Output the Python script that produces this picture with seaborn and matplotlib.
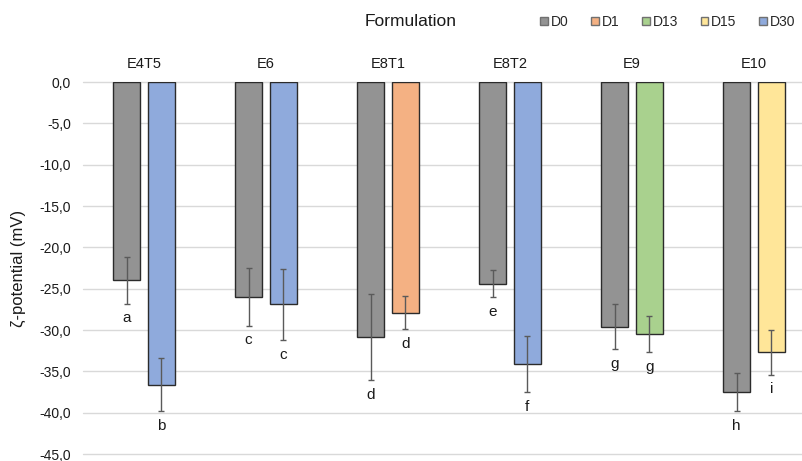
import numpy as np
import pandas as pd
import matplotlib
matplotlib.use('Agg')
import matplotlib.pyplot as plt
from matplotlib.patches import Patch
import seaborn as sns

# data
formulations = ['E4T5', 'E6', 'E8T1', 'E8T2', 'E9', 'E10']
days = ['D0', 'D1', 'D13', 'D15', 'D30']
# first bar of every group is D0, second one is the day below
second_day = ['D30', 'D30', 'D1', 'D30', 'D13', 'D15']

d0_mean = [-24.0, -26.0, -30.9, -24.4, -29.6, -37.5]
d0_err = [2.8, 3.5, 5.2, 1.6, 2.7, 2.3]
d0_letter = ['a', 'c', 'd', 'e', 'g', 'h']

dx_mean = [-36.6, -26.9, -27.9, -34.1, -30.5, -32.7]
dx_err = [3.2, 4.3, 2.0, 3.4, 2.2, 2.7]
dx_letter = ['b', 'c', 'd', 'f', 'g', 'i']

palette = {'D0': '#939393', 'D1': '#F4B183', 'D13': '#A9D18E',
           'D15': '#FFE699', 'D30': '#8FAADC'}

# long table
df = pd.DataFrame({
    'formulation': formulations * 2,
    'slot': ['first'] * 6 + ['second'] * 6,
    'day': ['D0'] * 6 + second_day,
    'zeta': d0_mean + dx_mean,
    'err': d0_err + dx_err,
    'letter': d0_letter + dx_letter,
})

sns.set_theme(style='white')
plt.rcParams['font.family'] = ['Liberation Sans', 'DejaVu Sans']

fig = plt.figure(figsize=(8.02, 4.61), dpi=100)
ax = fig.add_axes([83 / 802, 1 - 454 / 461, 719 / 802, (454 - 82) / 461])

sns.barplot(data=df, x='formulation', y='zeta', hue='slot',
            order=formulations, hue_order=['first', 'second'],
            width=0.57, gap=0.228, errorbar=None, legend=False,
            edgecolor='#2b2b2b', linewidth=1, ax=ax)

# recolour bars by day and add error bars + letters
for p in ax.patches:
    cx = p.get_x() + p.get_width() / 2
    gi = int(round(cx))
    slot = 'first' if cx < gi else 'second'
    row = df[(df['formulation'] == formulations[gi]) & (df['slot'] == slot)].iloc[0]
    p.set_facecolor(palette[row['day']])
    ax.errorbar(cx, row['zeta'], yerr=row['err'], fmt='none', ecolor='#5a5a5a',
                elinewidth=1, capsize=2.5, capthick=1, zorder=5)
    ax.annotate(row['letter'], (cx, row['zeta'] - row['err']), xytext=(0, -10.5),
                textcoords='offset points', ha='center', va='center', fontsize=11,
                color='#1a1a1a')

ax.set_xlim(-0.5, -0.5 + 719 / 122)
ax.set_ylim(-45, 0)
yt = np.arange(-45, 1, 5)
ax.set_yticks(yt)
ax.set_yticklabels([f'{v:.1f}'.replace('.', ',') for v in yt])
ax.yaxis.grid(True, color='#D9D9D9', linewidth=1)
for gl in ax.yaxis.get_gridlines():
    gl.set_clip_on(False)
ax.set_axisbelow(True)
sns.despine(ax=ax, left=True, bottom=True, top=True, right=True)

ax.xaxis.tick_top()
ax.tick_params(axis='x', length=0, pad=8, labelsize=10.5, colors='#1a1a1a')
ax.tick_params(axis='y', length=0, pad=8.5, labelsize=10, colors='#1a1a1a')
ax.set_xlabel('')
ax.set_ylabel('ζ-potential (mV)', fontsize=12, color='#1a1a1a')
ax.yaxis.set_label_coords(-0.079, 0.5)

fig.text(411 / 802, 1 - 22 / 461, 'Formulation', ha='center', va='center',
         fontsize=12.5, color='#1a1a1a')

handles = [Patch(facecolor=palette[d], edgecolor='#707070', label=d) for d in days]
fig.legend(handles=handles, loc='center left', bbox_to_anchor=(540 / 802, 1 - 22 / 461),
           ncol=5, frameon=False, fontsize=10, handlelength=0.55, handleheight=0.55,
           handletextpad=0.2, columnspacing=1.65, borderpad=0, borderaxespad=0)

fig.savefig('out.png', dpi=100)
